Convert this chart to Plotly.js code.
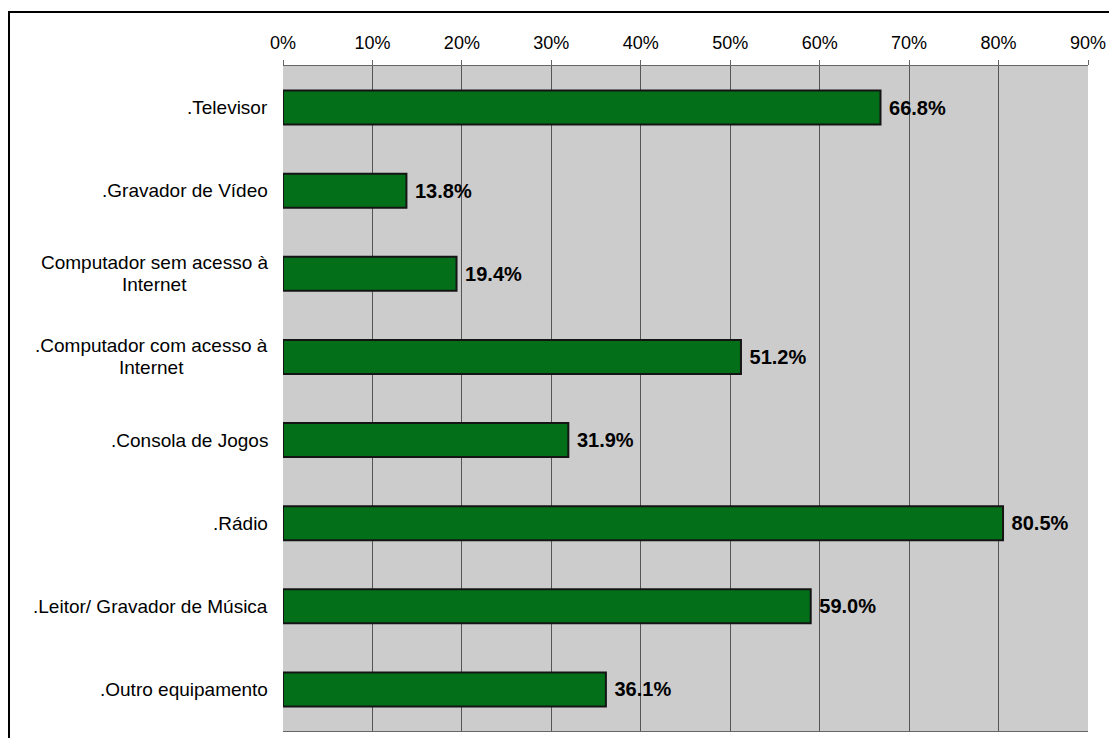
<!DOCTYPE html>
<html>
<head>
<meta charset="utf-8">
<script src="https://cdn.plot.ly/plotly-3.0.1.min.js"></script>
<style>
  html, body { margin: 0; padding: 0; background: #fff; }
  #chart { width: 1109px; height: 738px; }
</style>
</head>
<body>
<div id="chart"></div>
<script>
const categories = [
  ".Televisor",
  ".Gravador de Vídeo",
  "Computador sem acesso à<br>Internet",
  ".Computador com acesso à<br>Internet",
  ".Consola de Jogos",
  ".Rádio",
  ".Leitor/ Gravador de Música",
  ".Outro equipamento"
];
const values = [66.8, 13.8, 19.4, 51.2, 31.9, 80.5, 59.0, 36.1];
const tickValues = [0, 10, 20, 30, 40, 50, 60, 70, 80, 90];
const tickLabels = ["0%", "10%", "20%", "30%", "40%", "50%", "60%", "70%", "80%", "90%"];

const FONT = "Liberation Sans, Arial, sans-serif";
const W = 1109, H = 738;
const margin = { l: 283, r: 21, t: 66, b: 7 };
const pw = W - margin.l - margin.r;
const ph = H - margin.t - margin.b;

const trace = {
  type: "bar",
  orientation: "h",
  y: categories,
  x: values,
  marker: { color: "#037019", line: { color: "#141414", width: 2 } },
  text: values.map(v => "\u00A0" + v.toFixed(1) + "%"),
  textposition: "outside",
  constraintext: "none",
  cliponaxis: false,
  textfont: { family: FONT, size: 20, color: "#000", weight: "bold" },
  hoverinfo: "none"
};

// Category labels: each line its own annotation, centred, to match line spacing
const annotations = [];
const LINE = 22;
categories.forEach(c => {
  const lines = c.split("<br>");
  const n = lines.length;
  lines.forEach((ln, i) => {
    annotations.push({
      xref: "paper", yref: "y",
      x: n > 1 ? -15 / pw : -13 / pw, y: c,
      xanchor: n > 1 ? "center" : "right",
      xshift: 0,
      yanchor: "middle",
      yshift: -(i - (n - 1) / 2) * LINE,
      align: "center",
      text: ln,
      showarrow: false,
      font: { family: FONT, size: 19, color: "#000" }
    });
  });
});
// For multi-line labels, centre lines on the widest line's centre (right edge fixed)
(function () {
  const canvas = document.createElement("canvas");
  const ctx = canvas.getContext("2d");
  ctx.font = "19px 'Liberation Sans', Arial, sans-serif";
  const groups = {};
  annotations.forEach(a => { (groups[a.y] = groups[a.y] || []).push(a); });
  Object.values(groups).forEach(g => {
    if (g.length < 2) return;
    const maxW = Math.max(...g.map(a => ctx.measureText(a.text).width));
    g.forEach(a => { a.xshift = -maxW / 2; });
  });
})();

const layout = {
  width: W, height: H,
  margin: margin,
  paper_bgcolor: "#ffffff",
  plot_bgcolor: "#CCCCCC",
  showlegend: false,
  bargap: 0.59,
  xaxis: {
    side: "top",
    range: [0, 90],
    tickvals: tickValues,
    ticktext: tickLabels,
    ticks: "outside",
    ticklen: 5,
    tickcolor: "#666",
    tickwidth: 1,
    ticklabelstandoff: 4,
    showline: true,
    linecolor: "#666",
    linewidth: 1,
    mirror: true,
    showgrid: true,
    gridcolor: "#555",
    gridwidth: 1,
    zeroline: false,
    tickfont: { family: FONT, size: 18, color: "#000" },
    fixedrange: true
  },
  yaxis: {
    type: "category",
    categoryorder: "array",
    categoryarray: categories,
    autorange: "reversed",
    showticklabels: false,
    ticks: "",
    showgrid: false,
    zeroline: false,
    showline: false,
    fixedrange: true
  },
  annotations: annotations,
  shapes: [{
    type: "rect",
    xref: "paper", yref: "paper",
    x0: (9 - margin.l) / pw,
    x1: (W + 20 - margin.l) / pw,
    y0: -(40) / ph,
    y1: (H - margin.b - 12) / ph,
    line: { color: "#000", width: 2 },
    fillcolor: "rgba(0,0,0,0)",
    layer: "above"
  }]
};

Plotly.newPlot("chart", [trace], layout, { displayModeBar: false, staticPlot: true });
</script>
</body>
</html>
